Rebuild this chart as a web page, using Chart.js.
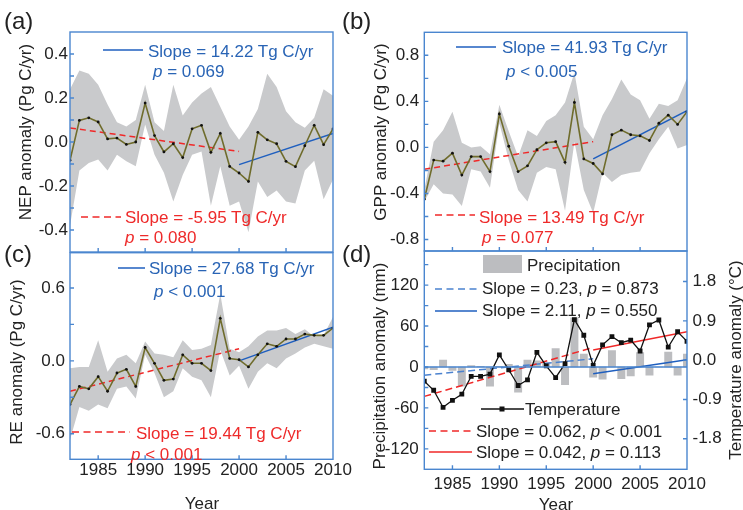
<!DOCTYPE html>
<html>
<head>
<meta charset="utf-8">
<script src="https://cdn.jsdelivr.net/npm/chart.js@4.4.1/dist/chart.umd.min.js"></script>
<style>
    body { margin: 0; background: #fff; width: 743px; height: 510px; overflow: hidden; position: relative; }
    canvas { position: absolute; }
    svg { position: absolute; left: 0; top: 0; }
</style>
</head>
<body>
<canvas id="nepChart" width="360" height="272" style="left:0;top:0"></canvas>
<canvas id="gppChart" width="371" height="272" style="left:372px;top:0"></canvas>
<canvas id="reChart" width="360" height="280" style="left:0;top:230px"></canvas>
<canvas id="climChart" width="371" height="280" style="left:372px;top:230px"></canvas>

<svg width="743" height="510" font-family="Liberation Sans, Arial, sans-serif" font-size="17">
    <!-- panel letters -->
    <text x="4" y="29" font-size="24" fill="#222">(a)</text>
    <text x="342" y="29" font-size="24" fill="#222">(b)</text>
    <text x="4" y="262" font-size="24" fill="#222">(c)</text>
    <text x="342" y="262" font-size="24" fill="#222">(d)</text>

    <!-- axis titles -->
    <text transform="translate(25,132) rotate(-90)" text-anchor="middle" dominant-baseline="central" fill="#222">NEP anomaly (Pg C/yr)</text>
    <text transform="translate(380,132) rotate(-90)" text-anchor="middle" dominant-baseline="central" fill="#222">GPP anomaly (Pg C/yr)</text>
    <text transform="translate(16,362) rotate(-90)" text-anchor="middle" dominant-baseline="central" fill="#222">RE anomaly (Pg C/yr)</text>
    <text transform="translate(379,366) rotate(-90)" text-anchor="middle" dominant-baseline="central" fill="#222">Precipitation anomaly (mm)</text>
    <text transform="translate(735,360) rotate(-90)" text-anchor="middle" dominant-baseline="central" fill="#222">Temperature anomaly (°C)</text>
    <text x="202" y="509" text-anchor="middle" fill="#222">Year</text>
    <text x="556" y="510" text-anchor="middle" fill="#222">Year</text>

    <!-- panel a notes -->
    <line x1="103" y1="50" x2="143" y2="50" stroke="#1f5fbf" stroke-width="1.5"/>
    <text x="148" y="57" fill="#2964b5">Slope = 14.22 Tg C/yr</text>
    <text x="153" y="77" fill="#2964b5"><tspan font-style="italic">p</tspan> = 0.069</text>
    <line x1="81" y1="217" x2="121" y2="217" stroke="#f02828" stroke-width="1.5" stroke-dasharray="7,4.5"/>
    <text x="125" y="223" fill="#ee2a2a">Slope = -5.95 Tg C/yr</text>
    <text x="125" y="243" fill="#ee2a2a"><tspan font-style="italic">p</tspan> = 0.080</text>

    <!-- panel b notes -->
    <line x1="456" y1="47" x2="496" y2="47" stroke="#1f5fbf" stroke-width="1.5"/>
    <text x="502" y="53" fill="#2964b5">Slope = 41.93 Tg C/yr</text>
    <text x="506" y="77" fill="#2964b5"><tspan font-style="italic">p</tspan> &lt; 0.005</text>
    <line x1="435" y1="215" x2="475" y2="215" stroke="#f02828" stroke-width="1.5" stroke-dasharray="7,4.5"/>
    <text x="479" y="223" fill="#ee2a2a">Slope = 13.49 Tg C/yr</text>
    <text x="482" y="243" fill="#ee2a2a"><tspan font-style="italic">p</tspan> = 0.077</text>

    <!-- panel c notes -->
    <line x1="118" y1="268" x2="145" y2="268" stroke="#1f5fbf" stroke-width="1.5"/>
    <text x="149" y="274" fill="#2964b5">Slope = 27.68 Tg C/yr</text>
    <text x="154" y="297" fill="#2964b5"><tspan font-style="italic">p</tspan> &lt; 0.001</text>
    <line x1="72" y1="432" x2="130" y2="432" stroke="#f02828" stroke-width="1.5" stroke-dasharray="7,4.5"/>
    <text x="136" y="439" fill="#ee2a2a">Slope = 19.44 Tg C/yr</text>
    <text x="131" y="460" fill="#ee2a2a"><tspan font-style="italic">p</tspan> &lt; 0.001</text>

    <!-- panel d legend -->
    <rect x="483" y="255" width="39" height="18" fill="#bcbdc0"/>
    <text x="527" y="271" fill="#222">Precipitation</text>
    <line x1="435" y1="289" x2="477" y2="289" stroke="#4b82cf" stroke-width="1.5" stroke-dasharray="7,4.5"/>
    <text x="482" y="294" fill="#222">Slope = 0.23, <tspan font-style="italic">p</tspan> = 0.873</text>
    <line x1="435" y1="311" x2="477" y2="311" stroke="#1f5fbf" stroke-width="1.5"/>
    <text x="482" y="316" fill="#222">Slope = 2.11, <tspan font-style="italic">p</tspan> = 0.550</text>
    <line x1="481" y1="409" x2="524" y2="409" stroke="#111" stroke-width="1.3"/>
    <rect x="499.5" y="406.5" width="5" height="5" fill="#111"/>
    <text x="525" y="415" fill="#222">Temperature</text>
    <line x1="429" y1="431" x2="472" y2="431" stroke="#f02828" stroke-width="1.5" stroke-dasharray="7,4.5"/>
    <text x="476" y="437" fill="#222">Slope = 0.062, <tspan font-style="italic">p</tspan> &lt; 0.001</text>
    <line x1="429" y1="452" x2="472" y2="452" stroke="#f02828" stroke-width="1.5"/>
    <text x="476" y="458" fill="#222">Slope = 0.042, <tspan font-style="italic">p</tspan> = 0.113</text>
</svg>

<script>
const years = [1982, 1983, 1984, 1985, 1986, 1987, 1988, 1989, 1990, 1991, 1992, 1993, 1994, 1995, 1996,
    1997, 1998, 1999, 2000, 2001, 2002, 2003, 2004, 2005, 2006, 2007, 2008, 2009, 2010];
const trendYearsEarly = [1982, 2000];
const trendYearsLate = [2000, 2010];

// (a) NEP, Pg C/yr
const nep = [-0.083, 0.098, 0.110, 0.091, 0.014, 0.018, -0.011, 0.000, 0.177, 0.029, -0.045, -0.008, -0.071, 0.060, 0.076,
    -0.047, 0.039, -0.111, -0.141, -0.179, 0.044, 0.010, -0.008, -0.088, -0.112, -0.017, 0.076, -0.012, 0.059];
const nepUpper = [0.24, 0.325, 0.31, 0.26, 0.17, 0.09, 0.07, 0.10, 0.26, 0.09, 0.05, 0.26, 0.12, 0.18, 0.22,
    0.25, 0.16, 0.07, 0.01, 0.07, 0.15, 0.31, 0.25, 0.14, 0.09, 0.065, 0.11, 0.24, 0.21];
const nepLower = [-0.38, -0.13, -0.095, -0.08, -0.13, -0.058, -0.088, -0.11, 0.079, -0.058, -0.14, -0.27, -0.15, -0.058, -0.043,
    -0.29, -0.11, -0.29, -0.27, -0.41, -0.18, -0.25, -0.22, -0.27, -0.28, -0.13, -0.085, -0.26, -0.17];
const nepTrendEarly = [0.064, -0.043];
const nepTrendLate = [-0.103, 0.039];

// (b) GPP
const gpp = [-0.45, -0.11, -0.12, -0.05, -0.24, -0.08, -0.08, -0.21, 0.29, 0.01, -0.21, -0.16, -0.02, 0.04, 0.05,
    -0.13, 0.39, -0.10, -0.14, -0.23, 0.11, 0.15, 0.11, 0.10, 0.06, 0.21, 0.28, 0.20, 0.31];
const gppUpper = [-0.37, 0.05, 0.15, 0.31, 0.04, 0.00, 0.01, -0.06, 0.37, 0.14, -0.08, 0.15, 0.10, 0.23, 0.28,
    0.39, 0.65, 0.18, 0.07, 0.28, 0.42, 0.59, 0.46, 0.41, 0.25, 0.38, 0.36, 0.41, 0.60];
const gppLower = [-0.47, -0.32, -0.40, -0.41, -0.51, -0.19, -0.21, -0.35, 0.21, -0.11, -0.37, -0.47, -0.22, -0.17, -0.19,
    -0.55, 0.05, -0.37, -0.57, -0.22, -0.30, -0.24, -0.22, -0.21, -0.05, 0.07, 0.18, -0.01, 0.02];
const gppTrendEarly = [-0.19, 0.05];
const gppTrendLate = [-0.10, 0.32];

// (c) RE
const re = [-0.36, -0.21, -0.23, -0.13, -0.25, -0.10, -0.07, -0.21, 0.11, -0.02, -0.16, -0.15, 0.05, -0.02, -0.02,
    -0.08, 0.35, 0.02, 0.01, -0.05, 0.05, 0.14, 0.12, 0.18, 0.18, 0.22, 0.21, 0.21, 0.27];
const reUpper = [-0.06, -0.05, -0.05, 0.17, -0.09, 0.02, 0.05, -0.02, 0.16, 0.06, 0.05, 0.03, 0.17, 0.09, 0.10,
    0.13, 0.55, 0.10, 0.07, 0.12, 0.20, 0.25, 0.25, 0.27, 0.22, 0.26, 0.20, 0.21, 0.36];
const reLower = [-0.65, -0.38, -0.41, -0.36, -0.39, -0.23, -0.21, -0.31, 0.05, -0.10, -0.30, -0.25, -0.06, -0.13, -0.16,
    -0.30, 0.09, -0.12, -0.04, -0.23, -0.09, -0.02, -0.06, 0.02, 0.06, 0.11, 0.14, 0.12, 0.10];
const reTrendEarly = [-0.25, 0.10];
const reTrendLate = [0.0, 0.277];

// (d) precipitation (mm) and temperature (deg C)
const precip = [-3, -4, 10, -5, -28, 2, 1, -28, 1, 4, -37, 10, 9, 6, 27,
    -26, 72, 19, -15, -18, 24, -17, -13, 21, -12, 0, 22, -12, 19];
const temp = [-0.48, -0.69, -1.08, -0.92, -0.78, -0.37, -0.37, -0.32, 0.12, -0.22, -0.58, -0.45, 0.18, -0.13, -0.40,
    -0.08, 0.93, 0.57, -0.12, 0.35, 0.54, 0.40, 0.46, 0.21, 0.81, 0.92, 0.30, 0.65, 0.43];
const precipTrendEarly = [-12, 12];
const precipTrendLate = [-10, 10.6];
const tempTrendEarly = [-0.83, 0.29];
const tempTrendLate = [0.23, 0.65];

// tick labels and tick marks
const yearTicks = [1985, 1990, 1995, 2000, 2005, 2010];
const yearMarks = [1985, 1990, 1995, 2000, 2005];
const nepTicks = [-0.4, -0.2, 0, 0.2, 0.4];
const nepMarks = [-0.4, -0.3, -0.2, -0.1, 0, 0.1, 0.2, 0.3, 0.4];
const gppTicks = [-0.8, -0.4, 0, 0.4, 0.8];
const gppMarks = [-0.8, -0.6, -0.4, -0.2, 0, 0.2, 0.4, 0.6, 0.8];
const reTicks = [-0.6, 0, 0.6];
const reMarks = [-0.6, -0.3, 0, 0.3, 0.6];
const precipTicks = [-120, -60, 0, 60, 120];
const precipMarks = [-120, -90, -60, -30, 0, 30, 60, 90, 120, 150];
const tempTicks = [-1.8, -0.9, 0, 0.9, 1.8];

const FONT = { family: '"Liberation Sans", Arial, sans-serif', size: 17 };
const FRAME = '#4a86cf';
const OLIVE = '#6f6c2c';
const BAND = '#c9cacc';
const RED = '#f02828';
const BLUE = '#1f5fbf';
const LIGHT_BLUE = '#4b82cf';
const BAR = '#bcbdc0';

const pts = (xs, ys) => xs.map((x, i) => ({ x: x, y: ys[i] }));

// blue box round the plot, inward tick marks, optional zero line
const framePlugin = {
    id: 'frame',
    afterDatasetsDraw(chart, args, opts) {
        const ctx = chart.ctx;
        const a = chart.chartArea;
        const s = chart.scales;
        ctx.save();
        ctx.strokeStyle = FRAME;
        ctx.lineWidth = 1.4;
        if (opts.zero) {
            const y0 = s.y.getPixelForValue(0);
            ctx.beginPath();
            ctx.moveTo(a.left, y0);
            ctx.lineTo(a.right, y0);
            ctx.stroke();
        }
        ctx.strokeRect(a.left, a.top, a.right - a.left, a.bottom - a.top);
        ctx.beginPath();
        (opts.yMarks || []).forEach(v => {
            const y = s.y.getPixelForValue(v);
            ctx.moveTo(a.left, y);
            ctx.lineTo(a.left + 4, y);
        });
        (opts.y2Marks || []).forEach(v => {
            const y = s.y2.getPixelForValue(v);
            ctx.moveTo(a.right, y);
            ctx.lineTo(a.right - 4, y);
        });
        (opts.xMarks || []).forEach(v => {
            const x = s.x.getPixelForValue(v);
            ctx.moveTo(x, a.bottom);
            ctx.lineTo(x, a.bottom - 4);
        });
        ctx.stroke();
        ctx.restore();
    }
};

function valueAxis(min, max, ticks, width, pad, digits, position) {
    return {
        type: 'linear',
        position: position || 'left',
        min: min,
        max: max,
        grid: { display: false, drawTicks: false },
        border: { display: false },
        afterBuildTicks: s => { s.ticks = ticks.map(v => ({ value: v })); },
        afterFit: s => { s.width = width; },
        ticks: {
            padding: pad,
            color: '#222',
            font: FONT,
            autoSkip: false,
            callback: v => Number(v).toFixed(digits)
        }
    };
}

function yearAxis(show, height, pad) {
    return {
        type: 'linear',
        min: 1982,
        max: 2010,
        offset: false,
        display: show,
        grid: { display: false, drawTicks: false },
        border: { display: false },
        afterBuildTicks: s => { s.ticks = yearTicks.map(v => ({ value: v })); },
        afterFit: s => { s.height = height; },
        ticks: { padding: pad, color: '#222', font: FONT, autoSkip: false, maxRotation: 0, callback: v => String(v) }
    };
}

function fluxDatasets(mean, upper, lower, early, late) {
    return [
        { data: pts(years, mean), borderColor: OLIVE, borderWidth: 1.6, pointRadius: 1.4,
          pointBackgroundColor: '#111', pointBorderWidth: 0, order: 1 },
        { data: pts(trendYearsEarly, early), borderColor: RED, borderWidth: 1.5, borderDash: [6, 4], pointRadius: 0, order: 2 },
        { data: pts(trendYearsLate, late), borderColor: BLUE, borderWidth: 1.5, pointRadius: 0, order: 2 },
        { data: pts(years, upper), fill: '+1', backgroundColor: BAND, borderColor: 'rgba(0,0,0,0)', borderWidth: 0, pointRadius: 0, order: 5 },
        { data: pts(years, lower), fill: false, borderColor: 'rgba(0,0,0,0)', borderWidth: 0, pointRadius: 0, order: 5 }
    ];
}

function fluxChart(id, datasets, yScale, xScale, padding, marks) {
    return new Chart(document.getElementById(id), {
        type: 'line',
        data: { datasets: datasets },
        options: {
            responsive: false,
            animation: false,
            events: [],
            layout: { padding: padding },
            scales: { x: xScale, y: yScale },
            plugins: { legend: { display: false }, tooltip: { enabled: false }, frame: marks }
        },
        plugins: [framePlugin]
    });
}

fluxChart('nepChart', fluxDatasets(nep, nepUpper, nepLower, nepTrendEarly, nepTrendLate),
    valueAxis(-0.5, 0.5, nepTicks, 70, 2, 1), yearAxis(false, 0, 0),
    { left: 0, top: 32, right: 27, bottom: 20 }, { yMarks: nepMarks, xMarks: yearMarks });

fluxChart('gppChart', fluxDatasets(gpp, gppUpper, gppLower, gppTrendEarly, gppTrendLate),
    valueAxis(-0.9, 1.0, gppTicks, 52.3, 5, 1), yearAxis(false, 0, 0),
    { left: 0, top: 32.3, right: 56, bottom: 21 }, { yMarks: gppMarks, xMarks: yearMarks });

fluxChart('reChart', fluxDatasets(re, reUpper, reLower, reTrendEarly, reTrendLate),
    valueAxis(-0.81, 0.89, reTicks, 70, 5, 1), yearAxis(true, 50.7, 1),
    { left: 0, top: 22.7, right: 27, bottom: 0 }, { yMarks: reMarks, xMarks: yearMarks });

new Chart(document.getElementById('climChart'), {
    type: 'bar',
    data: {
        datasets: [
            { type: 'line', data: pts(years, temp), yAxisID: 'y2', borderColor: '#111', borderWidth: 1.3,
              pointStyle: 'rect', pointRadius: 3.4, pointBackgroundColor: '#111', pointBorderWidth: 0, order: 1 },
            { type: 'line', data: pts(trendYearsEarly, tempTrendEarly), yAxisID: 'y2', borderColor: RED,
              borderWidth: 1.5, borderDash: [7, 4], pointRadius: 0, order: 2 },
            { type: 'line', data: pts(trendYearsLate, tempTrendLate), yAxisID: 'y2', borderColor: RED,
              borderWidth: 1.5, pointRadius: 0, order: 2 },
            { type: 'line', data: pts(trendYearsEarly, precipTrendEarly), yAxisID: 'y', borderColor: LIGHT_BLUE,
              borderWidth: 1.5, borderDash: [7, 4], pointRadius: 0, order: 2 },
            { type: 'line', data: pts(trendYearsLate, precipTrendLate), yAxisID: 'y', borderColor: BLUE,
              borderWidth: 1.5, pointRadius: 0, order: 2 },
            { type: 'bar', data: pts(years, precip), yAxisID: 'y', backgroundColor: BAR,
              barThickness: 7.3, clip: 0, order: 5 }
        ]
    },
    options: {
        responsive: false,
        animation: false,
        events: [],
        layout: { padding: { left: 0, top: 21, right: 0, bottom: 0 } },
        scales: {
            x: yearAxis(true, 40.7, 5),
            y: valueAxis(-150, 170, precipTicks, 52.3, 5.5, 0),
            y2: valueAxis(-2.5, 2.5, tempTicks, 56, 5.5, 1, 'right')
        },
        plugins: {
            legend: { display: false },
            tooltip: { enabled: false },
            frame: { zero: true, yMarks: precipMarks, y2Marks: tempTicks, xMarks: yearMarks }
        }
    },
    plugins: [framePlugin]
});
</script>
</body>
</html>
